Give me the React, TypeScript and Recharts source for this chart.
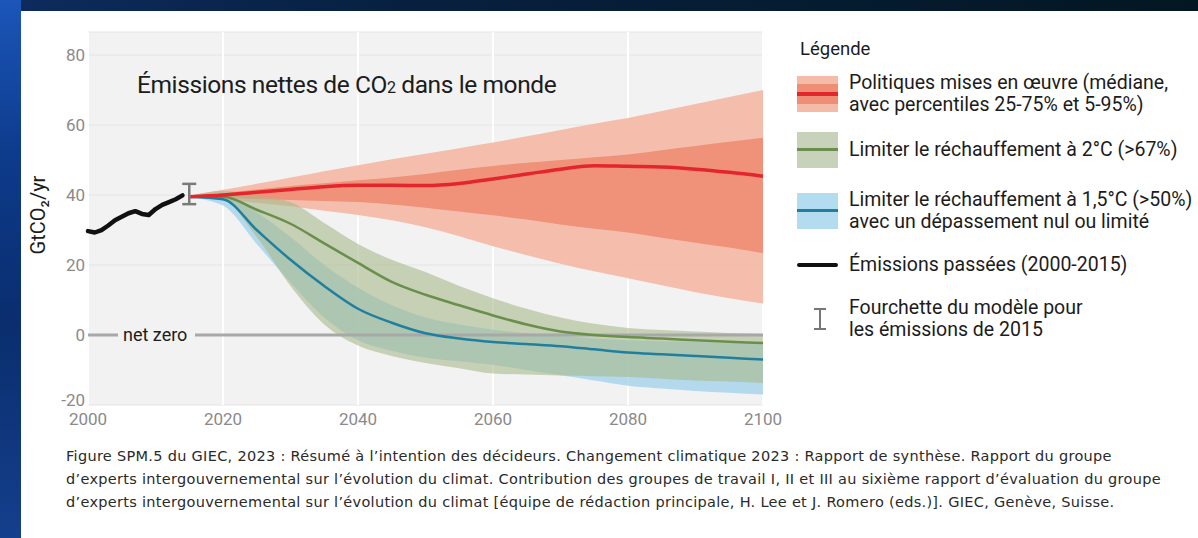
import { Area, CartesianGrid, ComposedChart, ErrorBar, Line, ReferenceLine, Scatter, XAxis, YAxis } from 'recharts'

// Émissions passées (2000-2014), GtCO2/an
const PAST_YEARS = [2000, 2001, 2002, 2003, 2004, 2005, 2006, 2007, 2008, 2009, 2010, 2011, 2012, 2013, 2014]
const PAST_EMISSIONS = [29.7, 29.3, 30.0, 31.3, 32.8, 33.8, 34.8, 35.4, 34.6, 34.3, 36.0, 37.2, 38.0, 38.8, 39.9]

// Fourchette du modèle pour 2015 (min, max)
const RANGE_2015 = [37.4, 43.2]

// Scénarios, pas de 5 ans
const PROJ_YEARS = [2015, 2020, 2025, 2030, 2035, 2040, 2045, 2050, 2055, 2060, 2065, 2070, 2075, 2080, 2085, 2090, 2095, 2100]

// Politiques mises en œuvre
const RED_MED = [39.5, 40.0, 40.8, 41.6, 42.4, 42.8, 42.8, 42.7, 43.3, 44.6, 46.0, 47.4, 48.4, 48.2, 48.0, 47.4, 46.5, 45.4]
const RED_P95 = [39.8, 41.5, 43.2, 45.0, 46.8, 48.5, 50.2, 51.8, 53.4, 55.0, 56.8, 58.6, 60.4, 62.0, 64.0, 66.0, 68.0, 70.0]
const RED_P75 = [39.6, 40.6, 41.6, 42.6, 43.4, 44.2, 45.0, 46.0, 47.2, 48.3, 49.2, 50.0, 50.8, 51.6, 52.8, 54.0, 55.2, 56.4]
const RED_P25 = [39.4, 39.2, 38.9, 38.6, 38.3, 38.0, 37.3, 36.4, 35.3, 34.2, 33.0, 31.6, 30.4, 29.3, 27.8, 26.4, 25.0, 23.4]
const RED_P5 = [39.3, 38.6, 37.8, 36.8, 35.5, 34.3, 32.8, 30.8, 28.2, 25.4, 22.8, 20.4, 18.2, 16.2, 14.2, 12.2, 10.5, 9.0]

// Limiter le réchauffement à 2°C
const GREEN_MED = [39.5, 39.5, 35.8, 31.8, 26.2, 20.6, 15.2, 11.5, 8.5, 5.6, 3.0, 1.0, 0.0, -0.6, -1.0, -1.5, -1.9, -2.3]
const GREEN_HI = [39.7, 41.2, 39.8, 38.0, 32.0, 26.0, 21.5, 18.0, 14.0, 10.5, 7.5, 5.0, 3.2, 2.0, 1.4, 1.0, 0.6, 0.3]
const GREEN_LO = [39.3, 38.5, 28.0, 14.0, 3.0, -3.0, -6.0, -8.0, -9.5, -11.0, -11.3, -11.6, -11.8, -12.0, -12.5, -13.0, -13.3, -13.7]

// Limiter le réchauffement à 1,5°C
const BLUE_MED = [39.5, 38.8, 30.0, 21.5, 14.0, 7.5, 3.5, 0.5, -1.0, -2.0, -2.6, -3.2, -4.1, -5.0, -5.5, -6.0, -6.5, -7.0]
const BLUE_HI = [39.6, 39.8, 35.0, 28.0, 20.0, 13.5, 8.5, 5.0, 3.0, 1.5, 0.5, -0.3, -1.0, -1.5, -1.8, -2.0, -2.3, -2.5]
const BLUE_LO = [39.4, 37.0, 26.0, 15.0, 5.0, -1.5, -4.5, -6.5, -7.5, -8.5, -10.0, -11.5, -13.0, -14.5, -15.3, -16.0, -16.5, -17.0]

const X_TICKS = [2000, 2020, 2040, 2060, 2080, 2100]
const Y_TICKS = [-20, 0, 20, 40, 60, 80]

const C_RED = '#e3262b'
const C_RED_OUTER = '#f4bba8'
const C_RED_INNER = '#ef8e76'
const C_GREEN = '#6a8f4c'
const C_GREEN_BAND = '#a7b98c'
const C_BLUE = '#217f9e'
const C_BLUE_BAND = '#9fd0ea'
const C_TICK = '#8a8a8a'
const C_TEXT = '#1c1c1c'
const PLOT_BG = '#f2f2f2'
const FONT = 'Roboto, "DejaVu Sans", sans-serif'

type Row = { year: number; [k: string]: number | number[] }

function buildRows(): Row[] {
  const byYear = new Map<number, Row>()
  const get = (y: number) => {
    if (!byYear.has(y)) byYear.set(y, { year: y })
    return byYear.get(y) as Row
  }
  PAST_YEARS.forEach((y, i) => {
    get(y).past = PAST_EMISSIONS[i]
  })
  PROJ_YEARS.forEach((y, i) => {
    const r = get(y)
    r.redMed = RED_MED[i]
    r.redOuter = [RED_P5[i], RED_P95[i]]
    r.redInner = [RED_P25[i], RED_P75[i]]
    r.greenMed = GREEN_MED[i]
    r.greenBand = [GREEN_LO[i], GREEN_HI[i]]
    r.blueMed = BLUE_MED[i]
    r.blueBand = [BLUE_LO[i], BLUE_HI[i]]
  })
  return [...byYear.values()].sort((a, b) => a.year - b.year)
}

const rows = buildRows()

const errPoint = [
  {
    year: 2015,
    value: (RANGE_2015[0] + RANGE_2015[1]) / 2,
    err: (RANGE_2015[1] - RANGE_2015[0]) / 2,
  },
]

function NetZeroLabel(props: any) {
  const vb = props.viewBox || { x: 0, y: 0 }
  return (
    <g>
      <rect x={vb.x + 30} y={vb.y - 11} width={77} height={22} fill={PLOT_BG} />
      <text x={vb.x + 35} y={vb.y + 6} fontSize={18} fill={C_TEXT} fontFamily={FONT}>
        net zero
      </text>
    </g>
  )
}

// bottom label sits a little above the plot edge so it clears the year ticks
function YTick(props: any) {
  const { x, y, payload } = props
  const shift = payload.value === Y_TICKS[0] ? -5 : 0
  return (
    <text x={x} y={y + shift} dy="0.355em" textAnchor="end" fontSize={17} fill={C_TICK} fontFamily={FONT}>
      {payload.value}
    </text>
  )
}

function Swatch({ kind }: { kind: 'red' | 'green' | 'blue' | 'black' | 'bar' }) {
  const box: React.CSSProperties = { position: 'absolute', left: 0, width: 41 }
  if (kind === 'red') {
    return (
      <div style={{ position: 'relative', width: 41, height: 36 }}>
        <div style={{ ...box, top: 0, height: 36, background: C_RED_OUTER }} />
        <div style={{ ...box, top: 8, height: 20, background: C_RED_INNER }} />
        <div style={{ ...box, top: 16, height: 4, background: C_RED }} />
      </div>
    )
  }
  if (kind === 'green' || kind === 'blue') {
    const band = kind === 'green' ? '#c8d2bb' : '#b3dcf0'
    const line = kind === 'green' ? C_GREEN : C_BLUE
    return (
      <div style={{ position: 'relative', width: 41, height: 36 }}>
        <div style={{ ...box, top: 0, height: 36, background: band }} />
        <div style={{ ...box, top: 16, height: 3, background: line }} />
      </div>
    )
  }
  if (kind === 'black') {
    return (
      <div style={{ position: 'relative', width: 41, height: 36 }}>
        <div style={{ ...box, top: 16, height: 4, borderRadius: 2, background: '#111' }} />
      </div>
    )
  }
  return (
    <div style={{ position: 'relative', width: 41, height: 36 }}>
      <div style={{ position: 'absolute', left: 17, top: 7, width: 12, height: 2, background: '#777' }} />
      <div style={{ position: 'absolute', left: 22, top: 7, width: 2, height: 21, background: '#777' }} />
      <div style={{ position: 'absolute', left: 17, top: 27, width: 12, height: 2, background: '#777' }} />
    </div>
  )
}

const LEGEND_ITEMS: { kind: 'red' | 'green' | 'blue' | 'black' | 'bar'; top: number; lines: string[] }[] = [
  { kind: 'red', top: 72, lines: ['Politiques mises en œuvre (médiane,', 'avec percentiles 25-75% et 5-95%)'] },
  { kind: 'green', top: 132, lines: ['Limiter le réchauffement à 2°C (>67%)'] },
  { kind: 'blue', top: 189, lines: ['Limiter le réchauffement à 1,5°C (>50%)', 'avec un dépassement nul ou limité'] },
  { kind: 'black', top: 247, lines: ['Émissions passées (2000-2015)'] },
  { kind: 'bar', top: 297, lines: ['Fourchette du modèle pour', 'les émissions de 2015'] },
]

const CAPTION = [
  'Figure SPM.5 du GIEC, 2023 : Résumé à l’intention des décideurs. Changement climatique 2023 : Rapport de synthèse. Rapport du groupe',
  'd’experts intergouvernemental sur l’évolution du climat. Contribution des groupes de travail I, II et III au sixième rapport d’évaluation du groupe',
  'd’experts intergouvernemental sur l’évolution du climat [équipe de rédaction principale, H. Lee et J. Romero (eds.)]. GIEC, Genève, Suisse.',
]

export default function App() {
  return (
    <div
      style={{
        position: 'absolute',
        left: 0,
        top: 0,
        width: 1198,
        height: 538,
        overflow: 'hidden',
        background: 'linear-gradient(90deg, #0d2b5e 0%, #07203f 35%, #031722 100%)',
        fontFamily: FONT,
      }}
    >
      <div
        style={{
          position: 'absolute',
          left: 0,
          top: 0,
          width: 21,
          height: 538,
          background: 'linear-gradient(180deg, #1b56b8 0%, #0d3a8a 30%, #0a2e6e 60%, #143f8c 100%)',
        }}
      />
      <div style={{ position: 'absolute', left: 21, top: 11, width: 1177, height: 527, background: '#fff' }} />

      <div style={{ position: 'absolute', left: 0, top: 0 }}>
        <ComposedChart width={800} height={440} data={rows} margin={{ top: 32, right: 37, bottom: 5, left: 48 }}>
          <CartesianGrid fill={PLOT_BG} stroke="#e4e4e4" vertical={false} horizontal />
          <CartesianGrid stroke="#ffffff" strokeWidth={2} horizontal={false} vertical fillOpacity={0} />
          <XAxis
            dataKey="year"
            type="number"
            domain={[2000, 2100]}
            ticks={X_TICKS}
            axisLine={false}
            tickLine={false}
            height={30}
            tick={{ fontSize: 17, fill: C_TICK, fontFamily: FONT }}
          />
          <YAxis
            type="number"
            domain={[-20, 86.6]}
            ticks={Y_TICKS}
            allowDataOverflow
            axisLine={false}
            tickLine={false}
            tickSize={0}
            tickMargin={3}
            width={40}
            tick={YTick}
          />
          <Area dataKey="redOuter" type="monotone" fill={C_RED_OUTER} fillOpacity={0.95} stroke="none" connectNulls isAnimationActive={false} activeDot={false} />
          <Area dataKey="redInner" type="monotone" fill={C_RED_INNER} fillOpacity={0.95} stroke="none" connectNulls isAnimationActive={false} activeDot={false} />
          <Area dataKey="blueBand" type="monotone" fill={C_BLUE_BAND} fillOpacity={0.75} stroke="none" connectNulls isAnimationActive={false} activeDot={false} />
          <Area dataKey="greenBand" type="monotone" fill={C_GREEN_BAND} fillOpacity={0.6} stroke="none" connectNulls isAnimationActive={false} activeDot={false} />
          <ReferenceLine y={0} stroke="#a8a8a8" strokeWidth={3} label={NetZeroLabel} />
          <Line dataKey="greenMed" type="monotone" stroke={C_GREEN} strokeWidth={2.5} dot={false} activeDot={false} connectNulls isAnimationActive={false} />
          <Line dataKey="blueMed" type="monotone" stroke={C_BLUE} strokeWidth={2.5} dot={false} activeDot={false} connectNulls isAnimationActive={false} />
          <Line dataKey="redMed" type="monotone" stroke={C_RED} strokeWidth={3.5} dot={false} activeDot={false} connectNulls isAnimationActive={false} />
          <Line dataKey="past" type="linear" stroke="#111" strokeWidth={4.5} strokeLinecap="round" strokeLinejoin="round" dot={false} activeDot={false} connectNulls isAnimationActive={false} />
          <Scatter data={errPoint} dataKey="value" shape={() => <g />} isAnimationActive={false}>
            <ErrorBar dataKey="err" direction="y" width={7} stroke="#7a7a7a" strokeWidth={2.5} />
          </Scatter>
        </ComposedChart>
      </div>

      <div
        style={{
          position: 'absolute',
          left: 137,
          top: 70,
          fontSize: 24.5,
          color: C_TEXT,
          lineHeight: '30px',
          whiteSpace: 'nowrap',
          letterSpacing: -0.4,
        }}
      >
        Émissions nettes de CO<span style={{ fontSize: 16 }}>2</span> dans le monde
      </div>

      <div
        style={{
          position: 'absolute',
          left: 38,
          top: 215,
          transform: 'translate(-50%, -50%) rotate(-90deg)',
          fontSize: 20,
          color: C_TEXT,
          whiteSpace: 'nowrap',
        }}
      >
        GtCO₂/yr
      </div>

      <div style={{ position: 'absolute', left: 800, top: 37, fontSize: 18.5, color: C_TEXT, lineHeight: '24px' }}>Légende</div>
      {LEGEND_ITEMS.map((item) => (
        <div key={item.kind} style={{ position: 'absolute', left: 797, top: item.top, display: 'flex', alignItems: 'center' }}>
          <Swatch kind={item.kind} />
          <div style={{ marginLeft: 11, fontSize: 19.5, lineHeight: '22px', color: C_TEXT, whiteSpace: 'nowrap' }}>
            {item.lines.map((l) => (
              <div key={l}>{l}</div>
            ))}
          </div>
        </div>
      ))}

      <div
        style={{
          position: 'absolute',
          left: 66,
          top: 445,
          fontSize: 14.5,
          lineHeight: '23px',
          letterSpacing: 0.3,
          color: '#2a2a2a',
          fontFamily: '"DejaVu Sans", sans-serif',
          whiteSpace: 'nowrap',
        }}
      >
        {CAPTION.map((l) => (
          <div key={l}>{l}</div>
        ))}
      </div>
    </div>
  )
}
